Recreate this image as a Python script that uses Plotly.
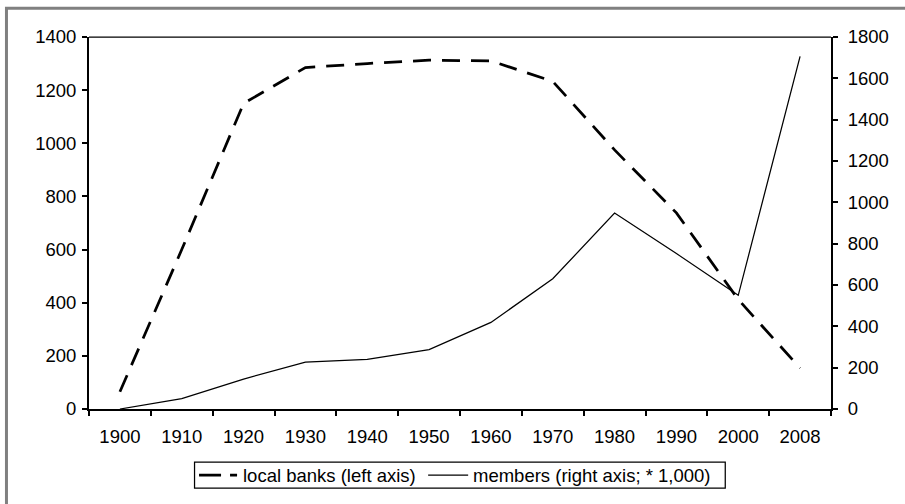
import plotly.graph_objects as go

years = ["1900", "1910", "1920", "1930", "1940", "1950", "1960", "1970", "1980", "1990", "2000", "2008"]
local_banks = [65, 600, 1150, 1285, 1300, 1313, 1310, 1233, 975, 738, 412, 154]
members = [0, 50, 145, 227, 240, 287, 419, 630, 948, 752, 550, 1706]

left_ticks = list(range(0, 1401, 200))
right_ticks = list(range(0, 1801, 200))
legend_labels = ["local banks (left axis)", "members (right axis; * 1,000)"]

FONT = "Liberation Sans, Arial, sans-serif"
FS = 18.5

W, H = 905, 504
L, R, T, B = 89, W - 830.7, 37, H - 409.3
pw, ph = W - L - R, H - T - B


def px(x):
    return (x - L) / pw


def py(y):
    return (H - B - y) / ph


fig = go.Figure()
fig.add_trace(go.Scatter(
    x=years, y=local_banks, mode="lines", name=legend_labels[0],
    line=dict(color="black", width=2.75, dash="18px,11px"), yaxis="y"))
fig.add_trace(go.Scatter(
    x=years, y=members, mode="lines", name=legend_labels[1],
    line=dict(color="black", width=1.25), yaxis="y2"))

n = len(years)
bounds = [i - 0.5 for i in range(n + 1)]

common_tick = dict(ticklen=5, tickwidth=1.5, tickcolor="black")
fig.update_layout(
    width=W, height=H,
    margin=dict(l=L, r=R, t=T, b=B, pad=0),
    paper_bgcolor="white", plot_bgcolor="white",
    font=dict(family=FONT, size=FS, color="black"),
    showlegend=False,
    xaxis=dict(type="category", range=[-0.5, n - 0.5], showgrid=False, zeroline=False,
               showline=True, linecolor="black", linewidth=2,
               ticks="outside", tickson="boundaries", ticklabelstandoff=10,
               tickfont=dict(family=FONT, size=FS, color="black"), **common_tick),
    xaxis2=dict(range=[-0.5, n - 0.5], overlaying="x", side="bottom", anchor="y",
                tickvals=bounds, ticks="inside", showticklabels=False,
                showgrid=False, zeroline=False, showline=False, **common_tick),
    yaxis=dict(range=[0, 1400], tickvals=left_ticks, showgrid=False, zeroline=False,
               showline=True, linecolor="black", linewidth=2,
               ticks="outside", ticklabelstandoff=2,
               tickfont=dict(family=FONT, size=FS, color="black"), **common_tick),
    yaxis3=dict(range=[0, 1400], tickvals=left_ticks, overlaying="y", side="left",
                anchor="x", ticks="inside", showticklabels=False,
                showgrid=False, zeroline=False, showline=False, **common_tick),
    yaxis2=dict(range=[0, 1800], tickvals=right_ticks, overlaying="y", side="right",
                anchor="x", showgrid=False, zeroline=False,
                showline=True, linecolor="black", linewidth=2,
                ticks="outside", ticklabelstandoff=6,
                tickfont=dict(family=FONT, size=FS, color="black"), **common_tick),
    yaxis4=dict(range=[0, 1800], tickvals=right_ticks, overlaying="y", side="right",
                anchor="x", ticks="inside", showticklabels=False,
                showgrid=False, zeroline=False, showline=False, **common_tick),
    shapes=[
        # top boundary line of plot area
        dict(type="line", xref="paper", yref="paper", x0=0, x1=1, y0=1, y1=1,
             line=dict(color="black", width=1.25)),
        # outer gray frame
        dict(type="rect", xref="paper", yref="paper",
             x0=px(6.5), x1=1.5, y0=-0.6, y1=py(8.2),
             line=dict(color="#808080", width=3), layer="below"),
        # legend box
        dict(type="rect", xref="paper", yref="paper",
             x0=px(194.5), x1=px(725), y0=py(488.5), y1=py(462.5),
             line=dict(color="black", width=1.25), fillcolor="white"),
        # legend samples
        dict(type="line", xref="paper", yref="paper",
             x0=px(199), x1=px(237), y0=py(475.5), y1=py(475.5),
             line=dict(color="black", width=2.75, dash="22px,9px")),
        dict(type="line", xref="paper", yref="paper",
             x0=px(428), x1=px(468), y0=py(475.5), y1=py(475.5),
             line=dict(color="black", width=1.25)),
    ],
    annotations=[
        dict(text=legend_labels[0], xref="paper", yref="paper", x=px(241), y=py(475.5),
             xanchor="left", yanchor="middle", showarrow=False,
             font=dict(family=FONT, size=FS, color="black")),
        dict(text=legend_labels[1], xref="paper", yref="paper", x=px(470.5), y=py(475.5),
             xanchor="left", yanchor="middle", showarrow=False,
             font=dict(family=FONT, size=FS, color="black")),
    ],
)

fig.write_html("out.html", config={"displayModeBar": False},
               post_script="document.body.style.margin='0';")
